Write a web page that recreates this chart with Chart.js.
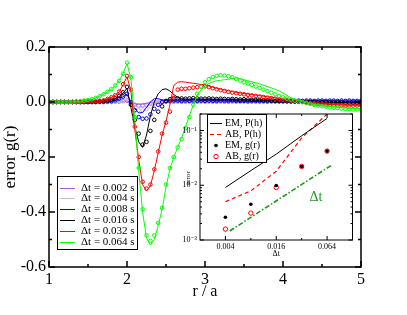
<!DOCTYPE html>
<html>
<head>
<meta charset="utf-8">
<script src="https://cdn.jsdelivr.net/npm/chart.js@4.4.1/dist/chart.umd.min.js"></script>
<style>
  html, body { margin: 0; padding: 0; background: #fff; }
  #wrap { position: relative; width: 407px; height: 315px; }
  #main { position: absolute; left: 0; top: 0; }
  #inset { position: absolute; left: 170px; top: 105px; }
</style>
</head>
<body>
<div id="wrap">
  <canvas id="main" width="407" height="315"></canvas>
  <canvas id="inset" width="190" height="160"></canvas>
</div>
<script>
// r / a positions of the sampled points
const rGrid = [
  1.00,1.05,1.10,1.15,1.20,1.25,1.30,1.35,1.40,1.45,
  1.50,1.55,1.60,1.65,1.70,1.75,1.80,1.85,1.90,1.95,
  2.00,2.05,2.10,2.15,2.20,2.25,2.30,2.35,2.40,2.45,
  2.50,2.55,2.60,2.65,2.70,2.75,2.80,2.85,2.90,2.95,
  3.00,3.05,3.10,3.15,3.20,3.25,3.30,3.35,3.40,3.45,
  3.50,3.55,3.60,3.65,3.70,3.75,3.80,3.85,3.90,3.95,
  4.00,4.05,4.10,4.15,4.20,4.25,4.30,4.35,4.40,4.45,
  4.50,4.55,4.60,4.65,4.70,4.75,4.80,4.85,4.90,4.95,
  5.00
];

const dtLabels = ['Δt = 0.002 s', 'Δt = 0.004 s', 'Δt = 0.008 s', 'Δt = 0.016 s', 'Δt = 0.032 s', 'Δt = 0.064 s'];
const dtColors = ['#a05ae4', '#d6baba', '#0000ff', '#000000', '#ff0000', '#00ff00'];

// error g(r), lines and circles, one pair per time step
const err002Line = [
  0,0,0,0,0,0,0,0,0,0,
  0,0,0,0,0,0,0,0.001,0.001,0.002,
  0.004,-0.003,-0.007,-0.008,-0.007,-0.005,-0.002,0,0.001,0.001,
  0.001,0.001,0.001,0.001,0.001,0.001,0.001,0.001,0.001,0.001,
  0.001,0.001,0.001,0.001,0.001,0.001,0.001,0.001,0.001,0.001,
  0.001,0.001,0.001,0.001,0.001,0.001,0.001,0.001,0.001,0.001,
  0.001,0.001,0.002,0.002,0.002,0.002,0.002,0.002,0.002,0.002,
  0.002,0.002,0.002,0.002,0.002,0.002,0.002,0.002,0.002,0.002,
  0.002
];
const err002Pts = [
  0,0,0,0,0,0,0,0,0,0,
  0,0,0,0,0,0,0,0.001,0.001,0.003,
  0.005,-0.004,-0.01,-0.013,-0.013,-0.01,-0.006,-0.002,0,0.001,
  0.001,0.002,0.001,0.002,0.001,0.001,0.002,0.001,0.001,0.002,
  0.001,0.002,0.001,0.001,0.002,0.001,0.001,0.002,0.001,0.001,
  0.002,0.001,0.001,0.001,0.002,0.001,0.001,0.001,0.002,0.001,
  0.001,0.002,0.002,0.001,0.002,0.002,0.002,0.003,0.002,0.002,
  0.003,0.002,0.002,0.003,0.002,0.002,0.003,0.002,0.002,0.002,
  0.002
];
const err004Line = [
  0,0,0,0,0,0,0,0,0,0,
  0,0,0,0,0,0,0.001,0.002,0.003,0.006,
  0.011,-0.003,-0.013,-0.02,-0.018,-0.01,-0.002,0.003,0.004,0.003,
  0.003,0.002,0.002,0.002,0.002,0.002,0.002,0.002,0.002,0.002,
  0.002,0.002,0.002,0.002,0.002,0.002,0.002,0.002,0.002,0.002,
  0.002,0.002,0.002,0.002,0.002,0.002,0.002,0.002,0.002,0.002,
  0.002,0.002,0.002,0.002,0.002,0.002,0.002,0.002,0.002,0.002,
  0.002,0.002,0.002,0.002,0.002,0.002,0.002,0.002,0.002,0.002,
  0.002
];
const err004Pts = [
  0,0,0,0,0,0,0,0,0,0,
  0,0,0,0,0,0,0.001,0.002,0.003,0.006,
  0.012,-0.005,-0.02,-0.03,-0.031,-0.026,-0.016,-0.006,0,0.002,
  0.003,0.002,0.003,0.002,0.003,0.002,0.002,0.003,0.002,0.002,
  0.003,0.002,0.002,0.003,0.002,0.002,0.003,0.002,0.002,0.002,
  0.003,0.002,0.002,0.002,0.003,0.002,0.002,0.002,0.002,0.003,
  0.002,0.002,0.003,0.002,0.002,0.002,0.003,0.002,0.002,0.002,
  0.002,0.003,0.002,0.002,0.002,0.003,0.002,0.002,0.002,0.002,
  0.002
];
const err008Line = [
  0,0,0,0,0,0,0,0,0,0,
  0,0,0,0.001,0.001,0.002,0.003,0.006,0.011,0.019,
  0.028,0,-0.025,-0.04,-0.038,-0.02,0,0.012,0.012,0.008,
  0.005,0.004,0.004,0.004,0.004,0.004,0.004,0.004,0.004,0.004,
  0.004,0.004,0.004,0.004,0.004,0.004,0.004,0.003,0.003,0.003,
  0.003,0.003,0.003,0.003,0.004,0.004,0.004,0.004,0.004,0.004,
  0.004,0.004,0.004,0.004,0.004,0.004,0.004,0.004,0.004,0.004,
  0.004,0.004,0.004,0.004,0.004,0.004,0.004,0.004,0.004,0.004,
  0.004
];
const err008Pts = [
  0,0,0,0,0,0,0,0,0,0,
  0,0,0,0.001,0.001,0.002,0.003,0.006,0.012,0.02,
  0.03,0,-0.03,-0.055,-0.061,-0.06,-0.045,-0.025,-0.01,0,
  0.003,0.004,0.005,0.005,0.004,0.005,0.004,0.005,0.004,0.005,
  0.004,0.005,0.004,0.004,0.005,0.004,0.004,0.005,0.004,0.004,
  0.004,0.003,0.004,0.004,0.003,0.004,0.003,0.004,0.003,0.003,
  0.004,0.003,0.004,0.004,0.005,0.004,0.005,0.005,0.004,0.005,
  0.005,0.004,0.005,0.005,0.004,0.005,0.004,0.005,0.004,0.004,
  0.004
];
const err016Line = [
  0,0,0,0,0,0,0,0,0,0,
  0,0.001,0.001,0.002,0.003,0.005,0.008,0.012,0.02,0.032,
  0.05,-0.02,-0.09,-0.145,-0.165,-0.12,-0.05,0,0.03,0.045,
  0.048,0.04,0.027,0.017,0.012,0.01,0.01,0.011,0.011,0.01,
  0.01,0.011,0.01,0.01,0.01,0.009,0.009,0.009,0.008,0.008,
  0.008,0.007,0.007,0.006,0.006,0.005,0.005,0.004,0.004,0.003,
  0.003,0.002,0.002,0.001,0.001,0,0,0,-0.001,-0.001,
  -0.001,-0.001,-0.002,-0.002,-0.002,-0.002,-0.002,-0.003,-0.003,-0.003,
  -0.003
];
const err016Pts = [
  0,0,0,0,0,0,0,0,0,0,
  0,0.001,0.001,0.002,0.003,0.005,0.008,0.013,0.022,0.035,
  0.055,-0.01,-0.065,-0.115,-0.155,-0.145,-0.105,-0.065,-0.035,-0.016,
  0.004,0.01,0.012,0.013,0.013,0.012,0.013,0.014,0.013,0.012,
  0.012,0.013,0.012,0.011,0.012,0.011,0.01,0.011,0.01,0.009,
  0.01,0.009,0.008,0.008,0.007,0.006,0.006,0.005,0.004,0.004,
  0.003,0.003,0.002,0.002,0.001,0.001,0,0,0,-0.001,
  -0.001,-0.001,-0.002,-0.002,-0.002,-0.002,-0.003,-0.003,-0.003,-0.003,
  -0.003
];
const err032Line = [
  0,0,0,0,0,0,0,0,0,0.001,
  0.002,0.002,0.003,0.004,0.006,0.011,0.017,0.025,0.037,0.063,
  0.092,0.04,-0.1,-0.21,-0.3,-0.323,-0.305,-0.25,-0.185,-0.12,
  -0.07,-0.01,0.06,0.072,0.074,0.072,0.07,0.068,0.066,0.064,
  0.062,0.058,0.054,0.05,0.047,0.044,0.041,0.038,0.035,0.033,
  0.031,0.029,0.027,0.025,0.023,0.021,0.019,0.017,0.015,0.013,
  0.011,0.009,0.007,0.005,0.003,0.001,-0.001,-0.003,-0.004,-0.006,
  -0.007,-0.008,-0.009,-0.01,-0.011,-0.011,-0.012,-0.012,-0.012,-0.012,
  -0.011
];
const err032Pts = [
  0,0,0,0,0,0,0,0,0,0.001,
  0.002,0.002,0.003,0.004,0.006,0.011,0.017,0.025,0.038,0.065,
  0.095,0.045,-0.09,-0.2,-0.29,-0.315,-0.3,-0.245,-0.18,-0.115,
  -0.075,-0.035,0.015,0.045,0.048,0.048,0.05,0.052,0.054,0.056,
  0.057,0.054,0.05,0.046,0.043,0.04,0.037,0.034,0.032,0.03,
  0.028,0.026,0.024,0.022,0.02,0.018,0.016,0.014,0.012,0.01,
  0.008,0.006,0.004,0.003,0.001,0,-0.002,-0.004,-0.005,-0.007,
  -0.008,-0.009,-0.01,-0.011,-0.012,-0.012,-0.013,-0.013,-0.013,-0.013,
  -0.012
];
const err064Line = [
  0,0,0,0,0,0,0.001,0.002,0.003,0.005,
  0.007,0.01,0.015,0.021,0.028,0.037,0.047,0.06,0.078,0.104,
  0.14,0.085,-0.06,-0.25,-0.4,-0.495,-0.52,-0.5,-0.45,-0.39,
  -0.31,-0.245,-0.2,-0.165,-0.13,-0.09,-0.05,-0.01,0.025,0.045,
  0.058,0.067,0.073,0.077,0.079,0.081,0.083,0.085,0.087,0.085,
  0.081,0.077,0.073,0.07,0.066,0.061,0.056,0.051,0.046,0.04,
  0.032,0.024,0.016,0.01,0.005,0.001,-0.003,-0.006,-0.009,-0.011,
  -0.013,-0.015,-0.017,-0.018,-0.019,-0.021,-0.022,-0.023,-0.024,-0.024,
  -0.025
];
const err064Pts = [
  0,0,0,0,0,0,0.001,0.002,0.003,0.005,
  0.007,0.01,0.015,0.021,0.028,0.037,0.047,0.06,0.077,0.103,
  0.143,0.09,-0.055,-0.24,-0.39,-0.485,-0.505,-0.485,-0.44,-0.385,
  -0.3,-0.24,-0.2,-0.165,-0.135,-0.095,-0.055,-0.01,0.03,0.055,
  0.072,0.083,0.091,0.095,0.097,0.096,0.094,0.09,0.084,0.078,
  0.072,0.067,0.062,0.056,0.051,0.045,0.039,0.034,0.028,0.022,
  0.017,0.012,0.008,0.005,0.002,0,-0.004,-0.007,-0.01,-0.013,
  -0.015,-0.017,-0.019,-0.021,-0.022,-0.024,-0.025,-0.026,-0.027,-0.027,
  -0.027
];

const xTicks = [1, 2, 3, 4, 5];
const xTickLabels = ['1', '2', '3', '4', '5'];
const xMinor = [1.5, 2.5, 3.5, 4.5];
const yTicks = [-0.6, -0.4, -0.2, 0, 0.2];
const yTickLabels = ['-0.6', '-0.4', '-0.2', '0.0', '0.2'];
const yMinor = [-0.5, -0.3, -0.1, 0.1];

// inset: error versus time step (log-log)
const insetDt = [0.004, 0.008, 0.016, 0.032, 0.064];
const emPh = [0.0091, 0.0185, 0.037, 0.08, 0.166];
const abPh = [0.005, 0.0079, 0.018, 0.073, 0.2];
const emGr = [0.0026, 0.0045, 0.0099, 0.022, 0.042];
const abGr = [0.00158, 0.0031, 0.0091, 0.022, 0.042];
const slopeDt = [0.0045, 0.072];
const slopeErr = [0.00146, 0.0232];
const insetLabels = ['EM, P(h)', 'AB, P(h)', 'EM, g(r)', 'AB, g(r)'];
const insetXTicks = [0.004, 0.016, 0.064];
const insetXLabels = ['0.004', '0.016', '0.064'];
const insetXMinor = [0.008, 0.032];
const insetYTicks = [0.001, 0.01, 0.1];
const insetYLabels = ['10⁻³', '10⁻²', '10⁻¹'];

const serif = "'Liberation Serif', 'DejaVu Serif', serif";
const green4 = '#1f971f';

function toXY(xs, ys) {
  return xs.map((x, i) => ({x: x, y: ys[i]}));
}

// frame with inward ticks on all four sides
function drawFrame(chart, xMaj, xMin, yMaj, yMin, majLen, minLen, lw) {
  const {ctx, chartArea: a, scales: {x, y}} = chart;
  ctx.save();
  ctx.strokeStyle = '#000';
  ctx.lineWidth = lw;
  ctx.beginPath();
  const tx = (v, len) => {
    const p = x.getPixelForValue(v);
    ctx.moveTo(p, a.bottom); ctx.lineTo(p, a.bottom - len);
    ctx.moveTo(p, a.top); ctx.lineTo(p, a.top + len);
  };
  const ty = (v, len) => {
    const p = y.getPixelForValue(v);
    ctx.moveTo(a.left, p); ctx.lineTo(a.left + len, p);
    ctx.moveTo(a.right, p); ctx.lineTo(a.right - len, p);
  };
  xMaj.forEach(v => tx(v, majLen));
  xMin.forEach(v => tx(v, minLen));
  yMaj.forEach(v => ty(v, majLen));
  yMin.forEach(v => ty(v, minLen));
  ctx.stroke();
  ctx.strokeRect(a.left, a.top, a.right - a.left, a.bottom - a.top);
  ctx.restore();
}

// ---------- main chart ----------
const series = [
  [err002Line, err002Pts], [err004Line, err004Pts], [err008Line, err008Pts],
  [err016Line, err016Pts], [err032Line, err032Pts], [err064Line, err064Pts]
];
const mainSets = [];
series.forEach((s, k) => {
  mainSets.push({
    label: dtLabels[k], data: toXY(rGrid, s[0]),
    borderColor: dtColors[k], borderWidth: 1, pointRadius: 0, tension: 0,
    order: 2 * (5 - k) + 1
  });
  mainSets.push({
    label: '', data: toXY(rGrid, s[1]), showLine: false,
    pointRadius: 1.8, pointBorderWidth: 1, pointBorderColor: dtColors[k],
    pointBackgroundColor: 'rgba(0,0,0,0)', order: 2 * (5 - k)
  });
});

const mainDecor = {
  id: 'mainDecor',
  afterDraw(chart) {
    drawFrame(chart, xTicks, xMinor, yTicks, yMinor, 6, 3, 1.5);
    const ctx = chart.ctx;
    ctx.save();
    ctx.fillStyle = '#fff';
    ctx.fillRect(57, 176, 80, 73);
    ctx.strokeStyle = '#000';
    ctx.lineWidth = 1;
    ctx.strokeRect(57.5, 176.5, 80, 73);
    ctx.font = '11px ' + serif;
    ctx.textBaseline = 'middle';
    ctx.textAlign = 'left';
    const sets = chart.data.datasets.filter(d => d.label);
    sets.forEach((d, i) => {
      const yy = Math.round(187.5 + i * 10.8) + 0.5;
      ctx.strokeStyle = d.borderColor;
      ctx.beginPath();
      ctx.moveTo(60, yy); ctx.lineTo(75, yy);
      ctx.stroke();
      ctx.fillStyle = '#000';
      ctx.fillText(d.label, 81, yy);
    });
    ctx.restore();
  }
};

new Chart(document.getElementById('main'), {
  type: 'line',
  data: {datasets: mainSets},
  options: {
    responsive: false,
    animation: false,
    layout: {padding: {left: 0, top: 47, right: 46, bottom: 0}},
    plugins: {legend: {display: false}, tooltip: {enabled: false}},
    scales: {
      x: {
        type: 'linear', min: 1, max: 5,
        afterBuildTicks: s => { s.ticks = xTicks.map(v => ({value: v})); },
        afterFit: s => { s.height = 48; },
        grid: {display: false, drawTicks: false},
        border: {display: false},
        ticks: {
          callback: (v, i) => xTickLabels[i], color: '#000',
          font: {family: serif, size: 16}, padding: 3, maxRotation: 0, autoSkip: false
        },
        title: {display: true, text: 'r / a', color: '#000', font: {family: serif, size: 16}, padding: {top: 0, bottom: 14}}
      },
      y: {
        type: 'linear', min: -0.6, max: 0.2,
        afterBuildTicks: s => { s.ticks = yTicks.map(v => ({value: v})); },
        afterFit: s => { s.width = 49; },
        grid: {display: false, drawTicks: false},
        border: {display: false},
        ticks: {
          callback: (v, i) => yTickLabels[i], color: '#000',
          font: {family: serif, size: 16}, padding: 3, autoSkip: false
        },
        title: {display: true, text: 'error g(r)', color: '#000', font: {family: serif, size: 17}, padding: {top: 0, bottom: 0}}
      }
    }
  },
  plugins: [mainDecor]
});

// ---------- inset chart ----------
const insetYMinor = [];
[0.001, 0.01, 0.1].forEach(d => {
  for (let m = 2; m <= 9; m++) {
    if (d * m <= 0.2) insetYMinor.push(d * m);
  }
});

const insetDecor = {
  id: 'insetDecor',
  beforeDraw(chart) {
    const {ctx, chartArea: a} = chart;
    ctx.save();
    ctx.fillStyle = '#fff';
    ctx.fillRect(a.left, a.top, a.right - a.left, a.bottom - a.top);
    ctx.restore();
  },
  afterDraw(chart) {
    drawFrame(chart, insetXTicks, insetXMinor, insetYTicks, insetYMinor, 4, 2, 1);
    const ctx = chart.ctx;
    ctx.save();
    // legend box
    ctx.fillStyle = '#fff';
    ctx.fillRect(37, 9, 59, 48);
    ctx.strokeStyle = '#000';
    ctx.lineWidth = 1;
    ctx.strokeRect(37.5, 9.5, 59, 48);
    ctx.font = '10px ' + serif;
    ctx.textBaseline = 'middle';
    insetLabels.forEach((t, i) => {
      const yy = Math.round(18 + i * 11) + 0.5;
      if (i === 0) {
        ctx.strokeStyle = '#000'; ctx.setLineDash([]);
        ctx.beginPath(); ctx.moveTo(40, yy); ctx.lineTo(52, yy); ctx.stroke();
      } else if (i === 1) {
        ctx.strokeStyle = '#ff0000'; ctx.setLineDash([4, 3]);
        ctx.beginPath(); ctx.moveTo(40, yy); ctx.lineTo(53, yy); ctx.stroke();
        ctx.setLineDash([]);
      } else if (i === 2) {
        ctx.fillStyle = '#000';
        ctx.beginPath(); ctx.arc(46, yy, 1.8, 0, Math.PI * 2); ctx.fill();
      } else {
        ctx.strokeStyle = '#ff0000';
        ctx.beginPath(); ctx.arc(46, yy, 2.2, 0, Math.PI * 2); ctx.stroke();
      }
      ctx.fillStyle = '#000';
      ctx.textAlign = 'left';
      ctx.fillText(t, 55, yy);
    });
    // slope label
    ctx.fillStyle = green4;
    ctx.font = '14px ' + serif;
    ctx.textAlign = 'center';
    ctx.fillText('Δt', 146, 92);
    // y title of the inset
    ctx.fillStyle = '#000';
    ctx.font = '7px ' + serif;
    ctx.translate(18, 73);
    ctx.rotate(-Math.PI / 2);
    ctx.fillText('error', 0, 0);
    ctx.restore();
  }
};

new Chart(document.getElementById('inset'), {
  type: 'line',
  data: {
    datasets: [
      {label: insetLabels[2], data: toXY(insetDt, emGr), showLine: false, pointRadius: 1.8,
       pointBorderWidth: 0, pointBackgroundColor: '#000', order: 0},
      {label: insetLabels[3], data: toXY(insetDt, abGr), showLine: false, pointRadius: 2.2,
       pointBorderWidth: 1, pointBorderColor: '#ff0000', pointBackgroundColor: 'rgba(0,0,0,0)', order: 1},
      {label: insetLabels[0], data: toXY(insetDt, emPh), borderColor: '#000', borderWidth: 1,
       pointRadius: 0, order: 2},
      {label: insetLabels[1], data: toXY(insetDt, abPh), borderColor: '#ff0000', borderWidth: 1.2,
       borderDash: [4, 3], pointRadius: 0, order: 3},
      {label: 'Δt', data: toXY(slopeDt, slopeErr), borderColor: green4, borderWidth: 1.6,
       borderDash: [5, 2, 1.5, 2], pointRadius: 0, order: 4}
    ]
  },
  options: {
    responsive: false,
    animation: false,
    layout: {padding: {left: 0, top: 9, right: 7.5, bottom: 0}},
    plugins: {legend: {display: false}, tooltip: {enabled: false}},
    scales: {
      x: {
        type: 'logarithmic', min: 0.002, max: 0.128,
        afterBuildTicks: s => { s.ticks = insetXTicks.map(v => ({value: v})); },
        afterFit: s => { s.height = 25; },
        grid: {display: false, drawTicks: false},
        border: {display: false},
        ticks: {callback: (v, i) => insetXLabels[i], color: '#000', font: {family: serif, size: 8},
                padding: 2, maxRotation: 0, autoSkip: false},
        title: {display: true, text: 'Δt', color: '#000', font: {family: serif, size: 8}, padding: {top: 0, bottom: 6}}
      },
      y: {
        type: 'logarithmic', min: 0.001, max: 0.2,
        afterBuildTicks: s => { s.ticks = insetYTicks.map(v => ({value: v})); },
        afterFit: s => { s.width = 30; },
        grid: {display: false, drawTicks: false},
        border: {display: false},
        ticks: {callback: (v, i) => insetYLabels[i], color: '#000', font: {family: serif, size: 8},
                padding: 3, autoSkip: false}
      }
    }
  },
  plugins: [insetDecor]
});
</script>
</body>
</html>
